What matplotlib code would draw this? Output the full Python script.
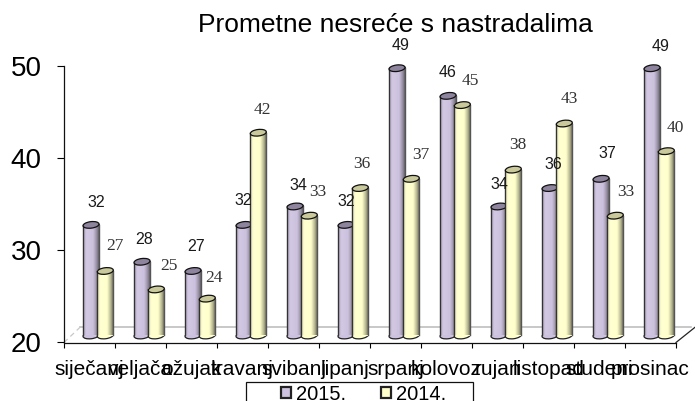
import numpy as np
import matplotlib
matplotlib.use("Agg")
import matplotlib.pyplot as plt
from matplotlib.patches import Ellipse, Patch, Rectangle
from matplotlib.lines import Line2D
from matplotlib.transforms import Affine2D
from matplotlib.colors import LinearSegmentedColormap

months = ["siječanj", "veljača", "ožujak", "travanj", "svibanj", "lipanj",
          "srpanj", "kolovoz", "rujan", "listopad", "studeni", "prosinac"]
values_2015 = [32, 28, 27, 32, 34, 32, 49, 46, 34, 36, 37, 49]
values_2014 = [27, 25, 24, 42, 33, 36, 37, 45, 38, 43, 33, 40]
series_names = ["2015.", "2014."]
title_text = "Prometne nesreće s nastradalima"

W, H, DPI = 695, 401, 100
plt.rcParams["font.family"] = ["Liberation Sans", "DejaVu Sans"]
fig = plt.figure(figsize=(W / DPI, H / DPI), dpi=DPI, facecolor="white")
ax = fig.add_axes([64 / W, 1 - 342.5 / H, (676 - 64) / W, (342.5 - 66) / H])
ax.set_zorder(1)
ax.set_xlim(-0.5, 11.5)
ax.set_ylim(20, 50)

# pseudo-3D floor offset of the bars, in pixels
lift = Affine2D().translate(0, 7)
bar_trans = ax.transData + lift

nudge_2015 = [(5, 22), (2, 22), (3, 24), (-1, 24), (3, 21), (0, 23),
              (4, 23), (0, 23), (0, 22), (3, 24), (6, 25), (9, 22)]
nudge_2014 = [(10, 25), (13, 23), (7, 21), (4, 23), (9, 24), (2, 24),
              (10, 24), (8, 24), (5, 25), (5, 25), (11, 24), (9, 23)]

styles = [
    dict(shift=0.03, face="#CCC1DE", top="#8E849E", font="Liberation Sans",
         shade=["#AFA5C0", "#D2C8E4", "#CFC5E0", "#CCC1DE", "#9A92A6", "#55505C"],
         nudge=nudge_2015, color="#1A1A1A"),
    dict(shift=0.31, face="#FFFFCC", top="#C9C99C", font="Liberation Serif",
         shade=["#DEDEB0", "#FFFFD2", "#FFFFCF", "#FFFFCC", "#BDBD98", "#60604C"],
         nudge=nudge_2014, color="#333333"),
]
width = 0.315
bar_px = width * (676 - 64) / 12


def cylinder(x, v, st, cmap, z):
    ax.bar(x, v - 20, width, bottom=20, color=st["face"], edgecolor="none",
           transform=bar_trans, zorder=z)
    ax.imshow(np.linspace(0, 1, 64)[None, :], cmap=cmap, aspect="auto",
              extent=(x - width / 2, x + width / 2, 20, v),
              transform=bar_trans, zorder=z + 0.1, interpolation="bilinear")
    px0, py0 = bar_trans.transform((x, 20))
    px1, py1 = bar_trans.transform((x, v))
    tf = Affine2D().translate(px0, py0)
    ax.add_patch(Ellipse((0, 0), bar_px, 6.5, angle=7, transform=tf,
                         facecolor=st["shade"][3], edgecolor="#222222",
                         linewidth=0.9, zorder=z - 0.1, clip_on=False))
    for xe, c in ((x - width / 2, "#333333"), (x + width / 2, "#555555")):
        ax.plot([xe, xe], [20, v], color=c, lw=1.0, transform=bar_trans, zorder=z + 0.2)
    tf = Affine2D().translate(px1, py1)
    ax.add_patch(Ellipse((0, 0), bar_px, 6.5, angle=7, transform=tf,
                         facecolor=st["top"], edgecolor="#111111",
                         linewidth=0.9, zorder=z + 0.3, clip_on=False))


for k, (vals, st) in enumerate(zip((values_2015, values_2014), styles)):
    cmap = LinearSegmentedColormap.from_list(f"c{k}", st["shade"])
    for i, v in enumerate(vals):
        x = i + st["shift"]
        cylinder(x, v, st, cmap, 3 + i + k * 0.5)
        ax.annotate(str(v), xy=bar_trans.transform((x, v)), xycoords="figure pixels",
                    xytext=st["nudge"][i], textcoords="offset pixels",
                    ha="center", va="center",
                    fontsize=11.5 if k == 0 else 12.5,
                    family=st["font"], color=st["color"], zorder=30,
                    annotation_clip=False)

ax.set_xlim(-0.5, 11.5)
ax.set_ylim(20, 50)

# back wall / floor guides
px = lambda x, y: (x / W, 1 - y / H)
for p0, p1, col, ls, lw, zo in (
    ((80, 327.3), (691, 327.3), "#BFBFBF", "-", 1.2, 0.5),
    ((64, 342.5), (80, 327.3), "#C8C8C8", (0, (4, 3)), 0.9, 0.5),
    ((676, 342.5), (695, 327.3), "#222222", "-", 0.9, 2),
):
    fig.add_artist(Line2D(*zip(px(*p0), px(*p1)), color=col, ls=ls, lw=lw, zorder=zo))

for s in ("top", "right"):
    ax.spines[s].set_visible(False)
ax.patch.set_alpha(0)
for s in ("left", "bottom"):
    ax.spines[s].set_linewidth(0.9)
    ax.spines[s].set_color("#111111")
ax.set_yticks([20, 30, 40, 50])
ax.tick_params(axis="y", length=5, width=0.8, pad=11, labelsize=20)
ax.set_xticks(range(12))
ax.set_xticklabels(months)
ax.set_xticks(np.arange(-0.5, 12, 1), minor=True)
ax.tick_params(axis="x", which="major", length=0, pad=12.5, labelsize=15)
ax.tick_params(axis="x", which="minor", length=3.6, width=0.8)

fig.text(395 / W, 1 - 25 / H, title_text, ha="center", va="center", fontsize=19)

# legend: clipped by the lower canvas edge as in the source
fig.add_artist(Rectangle(px(245.7, 410), (473 - 245.7) / W, (410 - 381.7) / H,
                         transform=fig.transFigure, facecolor="white",
                         edgecolor="#111111", linewidth=0.9, zorder=5))
handles = [Patch(facecolor=st["face"], edgecolor="#222222", linewidth=1.6) for st in styles]
leg = fig.legend(handles, series_names, loc="upper left", bbox_to_anchor=px(278.5, 382.5),
                 ncol=2, frameon=False, fontsize=14.5, borderpad=0.1, borderaxespad=0,
                 handlelength=0.5, handleheight=0.5, handletextpad=0.25,
                 columnspacing=1.75, labelspacing=0)
leg.set_zorder(6)

fig.savefig("out.png", dpi=DPI)
